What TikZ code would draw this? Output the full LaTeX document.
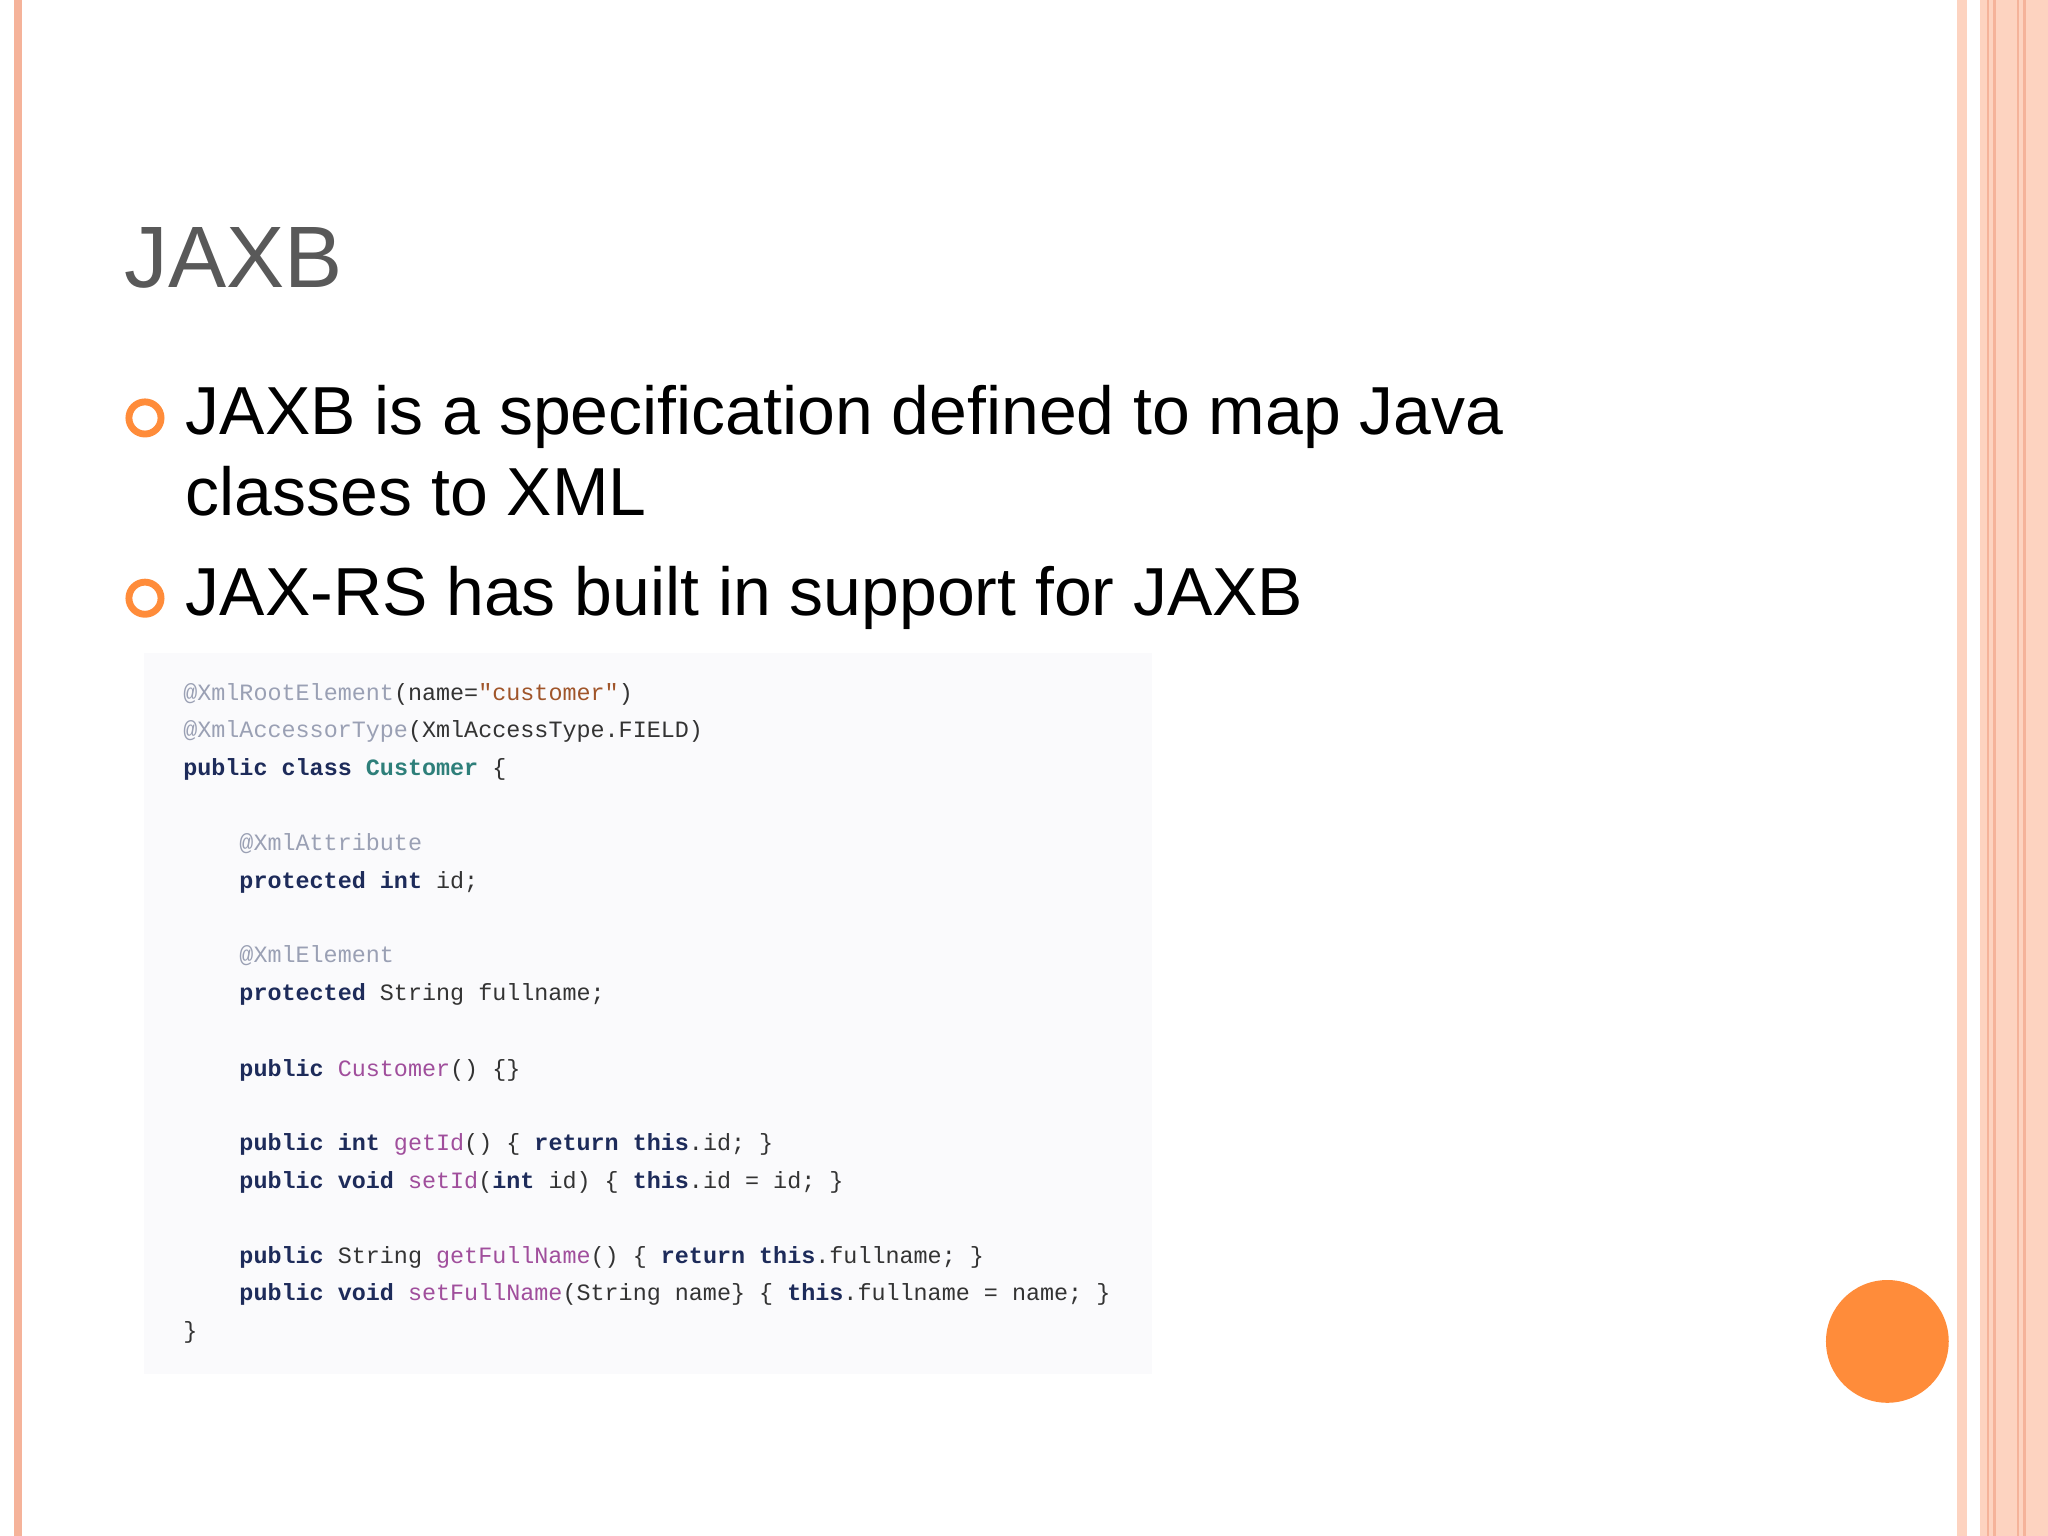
\documentclass[tikz,border=0pt]{standalone}
\usepackage{fontspec}
\setmainfont{Liberation Sans}
\setmonofont{Liberation Mono}
\definecolor{pinkline}{HTML}{F5B39A}
\definecolor{peach}{HTML}{FDD3C0}
\definecolor{titlegray}{HTML}{595959}
\definecolor{orng}{HTML}{FF8C3A}
\definecolor{codebg}{HTML}{FAFAFC}
\definecolor{ann}{HTML}{9AA0B4}
\definecolor{kwc}{HTML}{1D2B5A}
\definecolor{mnc}{HTML}{A04E9C}
\definecolor{stc}{HTML}{A0552A}
\definecolor{clc}{HTML}{2E7F7A}
\definecolor{txt}{HTML}{333333}
\newcommand{\kw}[1]{{\bfseries\color{kwc}#1}}
\newcommand{\an}[1]{{\color{ann}#1}}
\newcommand{\mn}[1]{{\color{mnc}#1}}
\newcommand{\stt}[1]{{\color{stc}#1}}
\newcommand{\cl}[1]{{\bfseries\color{clc}#1}}
\tikzset{
  code/.style={anchor=base west,inner sep=0pt,font=\ttfamily\fontsize{10.2}{12}\selectfont,text=txt},
  bul/.style={anchor=base west,inner sep=0pt,font=\fontsize{29.6}{34}\selectfont,text=black},
  dot/.style={circle,draw=orng,line width=3pt,minimum size=14pt,inner sep=0pt}
}
\begin{document}
\begin{tikzpicture}[x=0.02cm,y=-0.02cm]
\useasboundingbox (0,0) rectangle (1568,1176);
\fill[white] (0,0) rectangle (1568,1176);
% borders
\fill[pinkline] (11,0) rectangle (17,1176);
\fill[peach] (1498,0) rectangle (1506,1176);
\fill[peach] (1516,0) rectangle (1568,1176);
\foreach \x in {1522,1527,1545,1550} \draw[pinkline,line width=1pt] (\x,0) -- (\x,1176);
% title
\node[anchor=base west,inner sep=0pt,font=\fontsize{38}{44}\selectfont,text=titlegray] (title) at (95,220) {JAXB};
% bullets
\node[dot] (d1) at (111,320) {};
\node[bul] (b1) at (142,333) {JAXB is a specification defined to map Java};
\node[bul] (b1b) at (142,395) {classes to XML};
\node[dot] (d2) at (111,458) {};
\node[bul] (b2) at (142,471) {JAX-RS has built in support for JAXB};
% code
\fill[codebg] (110,500) rectangle (882,1052);
\node[code] (c1) at (140,536) {\an{@XmlRootElement}(name=\stt{"customer"})};
\node[code] (c2) at (140,565) {\an{@XmlAccessorType}(XmlAccessType.FIELD)};
\node[code] (c3) at (140,594) {\kw{public} \kw{class} \cl{Customer} \{};
\node[code] (c4) at (183,651) {\an{@XmlAttribute}};
\node[code] (c5) at (183,680) {\kw{protected} \kw{int} id;};
\node[code] (c6) at (183,737) {\an{@XmlElement}};
\node[code] (c7) at (183,766) {\kw{protected} String fullname;};
\node[code] (c8) at (183,824) {\kw{public} \mn{Customer}() \{\}};
\node[code] (c9) at (183,881) {\kw{public} \kw{int} \mn{getId}() \{ \kw{return} \kw{this}.id; \}};
\node[code] (c10) at (183,910) {\kw{public} \kw{void} \mn{setId}(\kw{int} id) \{ \kw{this}.id = id; \}};
\node[code] (c11) at (183,967) {\kw{public} String \mn{getFullName}() \{ \kw{return} \kw{this}.fullname; \}};
\node[code] (c12) at (183,996) {\kw{public} \kw{void} \mn{setFullName}(String name\} \{ \kw{this}.fullname = name; \}};
\node[code] (c13) at (140,1025) {\}};
% orange circle
\fill[orng] (1445,1027) circle (47);
\end{tikzpicture}
\end{document}
